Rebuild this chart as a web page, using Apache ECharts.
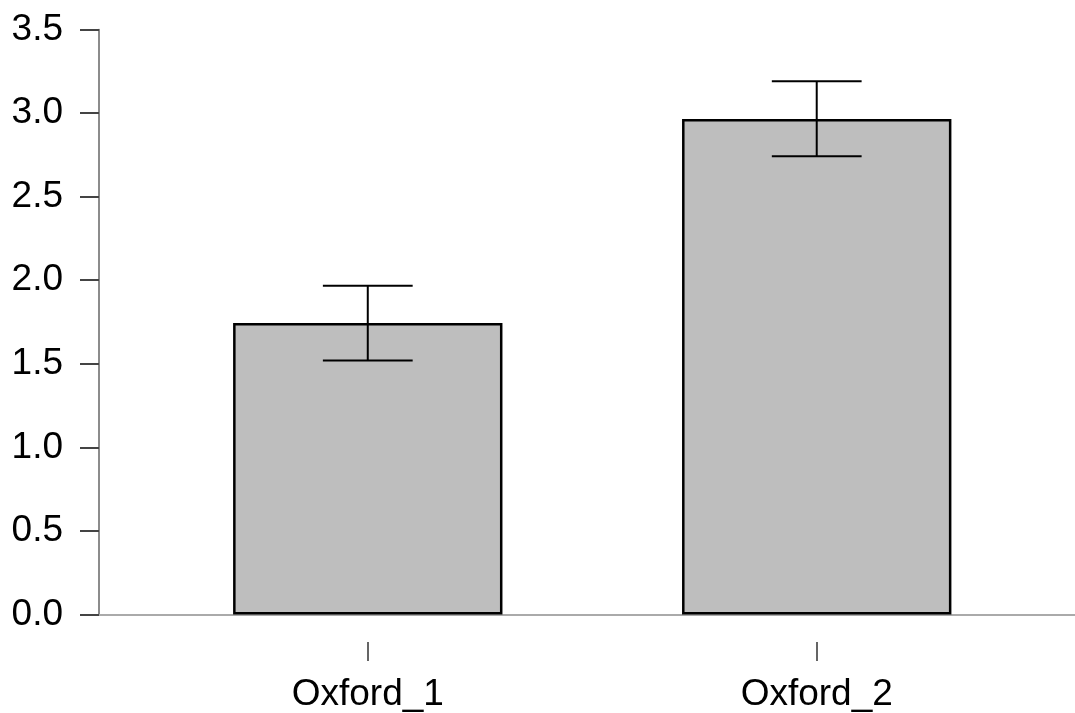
<!DOCTYPE html>
<html><head><meta charset="utf-8">
<script src="https://cdn.jsdelivr.net/npm/echarts@6/dist/echarts.min.js"></script>
<style>html,body{margin:0;padding:0;background:#fff}#c{width:1075px;height:713px}</style>
</head><body><div id="c"></div>
<script>
const categories = ['Oxford_1', 'Oxford_2'];
const means = [1.744, 2.965];
const lower = [1.520, 2.741];
const upper = [1.967, 3.190];
const yTicks = [0, 0.5, 1.0, 1.5, 2.0, 2.5, 3.0, 3.5];

const chart = echarts.init(document.getElementById('c'), null, {renderer: 'canvas'});
const font = '"Liberation Sans", Arial, sans-serif';
chart.setOption({
  animation: false,
  grid: [
    {left: 143.3, right: 33.8, top: 29.5, bottom: 98.5},
    {left: 99, right: 0, top: 29.5, bottom: 98.5},
    {left: 143.3, right: 33.8, top: 29.5, bottom: 68.5}
  ],
  xAxis: [
    {type: 'category', data: categories, gridIndex: 0,
     axisLine: {show: false}, axisTick: {show: false}, axisLabel: {show: false}},
    {type: 'value', gridIndex: 1, min: 0, max: 1,
     axisLine: {show: true, lineStyle: {color: '#aaa', width: 2}},
     axisTick: {show: false}, axisLabel: {show: false}, splitLine: {show: false}},
    {type: 'category', data: categories, gridIndex: 2,
     axisLine: {show: false},
     axisTick: {show: true, alignWithLabel: true, length: 19, lineStyle: {color: '#333', width: 1.5}},
     axisLabel: {fontSize: 37, fontFamily: font, color: '#000', margin: 34}}
  ],
  yAxis: [
    {type: 'value', gridIndex: 0, min: yTicks[0], max: yTicks[yTicks.length - 1], interval: 0.5, offset: 44.3,
     axisLine: {show: true, lineStyle: {color: '#666', width: 1.5}},
     axisTick: {show: true, length: 19, lineStyle: {color: '#444', width: 2}},
     axisLabel: {fontSize: 37, fontFamily: font, color: '#000', margin: 36,
                 formatter: v => v.toFixed(1)},
     splitLine: {show: false}},
    {type: 'value', gridIndex: 1, min: 0, max: 1, show: false},
    {type: 'value', gridIndex: 2, min: 0, max: 1, show: false}
  ],
  series: [
    {type: 'bar', xAxisIndex: 0, yAxisIndex: 0, data: means, barWidth: '60%',
     itemStyle: {color: '#bebebe', borderColor: '#000', borderWidth: 2.5}},
    {type: 'custom', xAxisIndex: 0, yAxisIndex: 0,
     data: categories.map((c, i) => [i, lower[i], upper[i]]),
     renderItem: function (params, api) {
       const lo = api.coord([api.value(0), api.value(1)]);
       const hi = api.coord([api.value(0), api.value(2)]);
       const half = api.size([1, 0])[0] * 0.1;
       const st = {stroke: '#000', lineWidth: 2};
       return {type: 'group', children: [
         {type: 'line', shape: {x1: hi[0], y1: hi[1], x2: lo[0], y2: lo[1]}, style: st},
         {type: 'line', shape: {x1: hi[0] - half, y1: hi[1], x2: hi[0] + half, y2: hi[1]}, style: st},
         {type: 'line', shape: {x1: lo[0] - half, y1: lo[1], x2: lo[0] + half, y2: lo[1]}, style: st}
       ]};
     }, z: 5}
  ]
});
</script></body></html>
